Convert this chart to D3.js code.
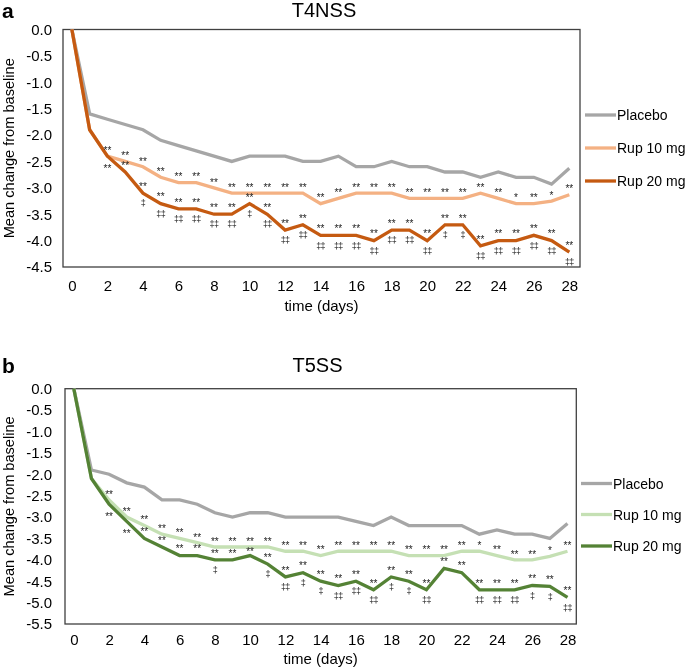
<!DOCTYPE html>
<html>
<head>
<meta charset="utf-8">
<script src="https://cdn.jsdelivr.net/npm/d3@7"></script>
<style>
  html, body { margin: 0; padding: 0; background: #fff; }
  svg { display: block; font-family: "Liberation Sans", Arial, sans-serif; transform: translateZ(0); }
</style>
</head>
<body>
<svg id="chart" width="685" height="671"></svg>
<script>
// ---------------- DATA ----------------
const days = [0,1,2,3,4,5,6,7,8,9,10,11,12,13,14,15,16,17,18,19,20,21,22,23,24,25,26,27,28];
const xTickValues = [0,2,4,6,8,10,12,14,16,18,20,22,24,26,28];
const seriesNames = ["Placebo", "Rup 10 mg", "Rup 20 mg"];

// Panel a: T4NSS
const t4Ticks = [0, -0.5, -1, -1.5, -2, -2.5, -3, -3.5, -4, -4.5];
const t4Placebo = [0, -1.6, -1.7, -1.8, -1.9, -2.1, -2.2, -2.3, -2.4, -2.5, -2.4, -2.4, -2.4, -2.5, -2.5, -2.4, -2.6, -2.6, -2.5, -2.6, -2.6, -2.7, -2.7, -2.8, -2.7, -2.8, -2.8, -2.93, -2.63];
const t4Rup10 = [0, -1.9, -2.4, -2.5, -2.6, -2.8, -2.9, -2.9, -3.0, -3.1, -3.1, -3.1, -3.1, -3.1, -3.3, -3.2, -3.1, -3.1, -3.1, -3.2, -3.2, -3.2, -3.2, -3.1, -3.2, -3.3, -3.3, -3.25, -3.13];
const t4Rup20 = [0, -1.9, -2.4, -2.7, -3.1, -3.3, -3.4, -3.4, -3.5, -3.5, -3.3, -3.5, -3.8, -3.7, -3.9, -3.9, -3.9, -4.0, -3.8, -3.8, -4.0, -3.7, -3.7, -4.1, -4.0, -4.0, -3.9, -4.0, -4.22];
const t4Sig10 = ["", "", "**", "**", "**", "**", "**", "**", "**", "**", "**", "**", "**", "**", "**", "**", "**", "**", "**", "**", "**", "**", "**", "**", "**", "*", "**", "*", "**"];
const t4Sig20 = ["", "", "**", "**", "**", "**", "**", "**", "**", "**", "**", "**", "**", "**", "**", "**", "**", "**", "**", "**", "**", "**", "**", "**", "**", "**", "**", "**", "**"];
const t4Dag20 = ["", "", "", "", "‡", "‡‡", "‡‡", "‡‡", "‡‡", "‡‡", "‡", "‡‡", "‡‡", "‡‡", "‡‡", "‡‡", "‡‡", "‡‡", "‡‡", "‡‡", "‡‡", "‡", "‡", "‡‡", "‡‡", "‡‡", "‡‡", "‡‡", "‡‡"];

// Panel b: T5SS
const t5Ticks = [0, -0.5, -1, -1.5, -2, -2.5, -3, -3.5, -4, -4.5, -5, -5.5];
const t5Placebo = [0, -1.9, -2.0, -2.2, -2.3, -2.6, -2.6, -2.7, -2.9, -3.0, -2.9, -2.9, -3.0, -3.0, -3.0, -3.0, -3.1, -3.2, -3.0, -3.2, -3.2, -3.2, -3.2, -3.4, -3.3, -3.4, -3.4, -3.5, -3.15];
const t5Rup10 = [0, -2.1, -2.6, -3.0, -3.2, -3.4, -3.5, -3.6, -3.7, -3.7, -3.7, -3.7, -3.8, -3.8, -3.9, -3.8, -3.8, -3.8, -3.8, -3.9, -3.9, -3.9, -3.8, -3.8, -3.9, -4.0, -4.0, -3.92, -3.8];
const t5Rup20 = [0, -2.1, -2.7, -3.1, -3.5, -3.7, -3.9, -3.9, -4.0, -4.0, -3.9, -4.1, -4.4, -4.3, -4.5, -4.6, -4.5, -4.7, -4.4, -4.5, -4.7, -4.2, -4.3, -4.7, -4.7, -4.7, -4.6, -4.62, -4.88];
const t5Sig10 = ["", "", "**", "**", "**", "**", "**", "**", "**", "**", "**", "**", "**", "**", "**", "**", "**", "**", "**", "**", "**", "**", "**", "*", "**", "**", "**", "*", "**"];
const t5Sig20 = ["", "", "**", "**", "**", "**", "**", "**", "**", "**", "**", "**", "**", "**", "**", "**", "**", "**", "**", "**", "**", "**", "**", "**", "**", "**", "**", "**", "**"];
const t5Dag20 = ["", "", "", "", "", "", "", "", "‡", "", "", "‡", "‡‡", "‡", "‡", "‡‡", "‡‡", "‡‡", "‡", "‡", "‡‡", "", "", "‡‡", "‡‡", "‡‡", "‡", "‡", "‡‡"];

// ---------------- DRAW ----------------
const svg = d3.select("#chart");
const FONT = '"Liberation Sans", Arial, sans-serif';

function panel(cfg) {
  const g = svg.append("g");
  const x = d3.scaleLinear().domain(cfg.xDomain).range([cfg.left, cfg.right]);
  const y = d3.scaleLinear().domain([cfg.yMin, 0]).range([cfg.bottom, cfg.top]);

  // panel letter and title
  g.append("text").attr("x", 2).attr("y", cfg.titleY + 0.5)
    .attr("font-size", 21).attr("font-weight", "bold").attr("fill", "#000").text(cfg.letter);
  g.append("text").attr("x", cfg.titleX).attr("y", cfg.titleY)
    .attr("text-anchor", "middle").attr("font-size", 20).attr("fill", "#000").text(cfg.title);

  // axes (labels only)
  const fmt = d => (d === 0 ? "0.0" : d.toFixed(1));
  const ya = g.append("g").attr("transform", `translate(${cfg.left},0)`)
    .call(d3.axisLeft(y).tickValues(cfg.yTicks).tickFormat(fmt).tickSize(0).tickPadding(cfg.left - 52));
  ya.select(".domain").remove();
  ya.selectAll("text").attr("font-size", 15).attr("font-family", FONT).attr("fill", "#000");

  const xa = g.append("g").attr("transform", `translate(0,${cfg.bottom})`)
    .call(d3.axisBottom(x).tickValues(xTickValues).tickFormat(d3.format("d")).tickSize(0).tickPadding(cfg.xPad));
  xa.select(".domain").remove();
  xa.selectAll("text").attr("font-size", 15).attr("font-family", FONT).attr("fill", "#000");

  // axis titles
  g.append("text").attr("x", (cfg.left + cfg.right) / 2).attr("y", cfg.xTitleY)
    .attr("text-anchor", "middle").attr("font-size", 15).attr("fill", "#000").text("time (days)");
  g.append("text")
    .attr("transform", `translate(13.5,${(cfg.top + cfg.bottom) / 2}) rotate(-90)`)
    .attr("text-anchor", "middle").attr("font-size", 14.6).attr("fill", "#000")
    .text("Mean change from baseline");

  // plot border
  g.append("rect").attr("x", cfg.left).attr("y", cfg.top)
    .attr("width", cfg.right - cfg.left).attr("height", cfg.bottom - cfg.top)
    .attr("fill", "none").attr("stroke", "#404040").attr("stroke-width", 1.3);

  // lines
  const line = d3.line().x((d, i) => x(days[i])).y(d => y(d));
  cfg.series.forEach((s, k) => {
    g.append("path").datum(s).attr("d", line).attr("fill", "none")
      .attr("stroke", cfg.colors[k]).attr("stroke-width", 3.3)
      .attr("stroke-linejoin", "miter").attr("stroke-linecap", "butt");
  });

  // significance annotations
  const ann = g.append("g").attr("fill", "#222").attr("text-anchor", "middle");
  days.forEach((d, i) => {
    const l10 = y(cfg.series[1][i]);
    const l20 = y(cfg.series[2][i]);
    const c10 = l10 - 8;          // visual centre of Rup 10 "**"
    let c20 = l20 - 9;            // visual centre of Rup 20 "**"
    if (c20 - c10 < 10) {
      c20 = c10 + 10;
      if (c20 > l20 - 4) c20 = l20 + 10;   // no room above: put it under the line
    }
    if (cfg.sig10[i]) ann.append("text").attr("x", x(d)).attr("y", c10 + 5.8)
      .attr("font-size", 10).text(cfg.sig10[i]);
    if (cfg.sig20[i]) ann.append("text").attr("x", x(d)).attr("y", c20 + 5.8)
      .attr("font-size", 10).text(cfg.sig20[i]);
    if (cfg.dag20[i]) ann.append("text").attr("x", x(d)).attr("y", l20 + 13.2)
      .attr("font-size", 9).attr("letter-spacing", -0.6).text(cfg.dag20[i]);
  });

  // legend
  const lg = g.append("g");
  seriesNames.forEach((name, k) => {
    const ly = cfg.legendY[k];
    lg.append("line").attr("x1", cfg.legendX).attr("x2", cfg.legendX + 31)
      .attr("y1", ly).attr("y2", ly).attr("stroke", cfg.colors[k]).attr("stroke-width", 3.3);
    lg.append("text").attr("x", cfg.legendX + 32).attr("y", ly).attr("dy", "0.36em")
      .attr("font-size", 14).attr("fill", "#000").text(name);
  });
}

panel({
  letter: "a", title: "T4NSS", titleX: 324, titleY: 17,
  left: 63, right: 580, top: 29.5, bottom: 267,
  xDomain: [-0.5, 28.6], yMin: -4.5, yTicks: t4Ticks, xPad: 13.4, xTitleY: 311,
  series: [t4Placebo, t4Rup10, t4Rup20],
  colors: ["#a6a6a6", "#f4b183", "#c55a11"],
  sig10: t4Sig10, sig20: t4Sig20, dag20: t4Dag20,
  legendX: 585, legendY: [115, 148, 181]
});

panel({
  letter: "b", title: "T5SS", titleX: 317.5, titleY: 372,
  left: 65, right: 576.3, top: 388.7, bottom: 624,
  xDomain: [-0.5, 28.5], yMin: -5.5, yTicks: t5Ticks, xPad: 10.4, xTitleY: 664,
  series: [t5Placebo, t5Rup10, t5Rup20],
  colors: ["#a6a6a6", "#c5e0b4", "#548235"],
  sig10: t5Sig10, sig20: t5Sig20, dag20: t5Dag20,
  legendX: 581, legendY: [483.5, 514.5, 546]
});
</script>
</body>
</html>
